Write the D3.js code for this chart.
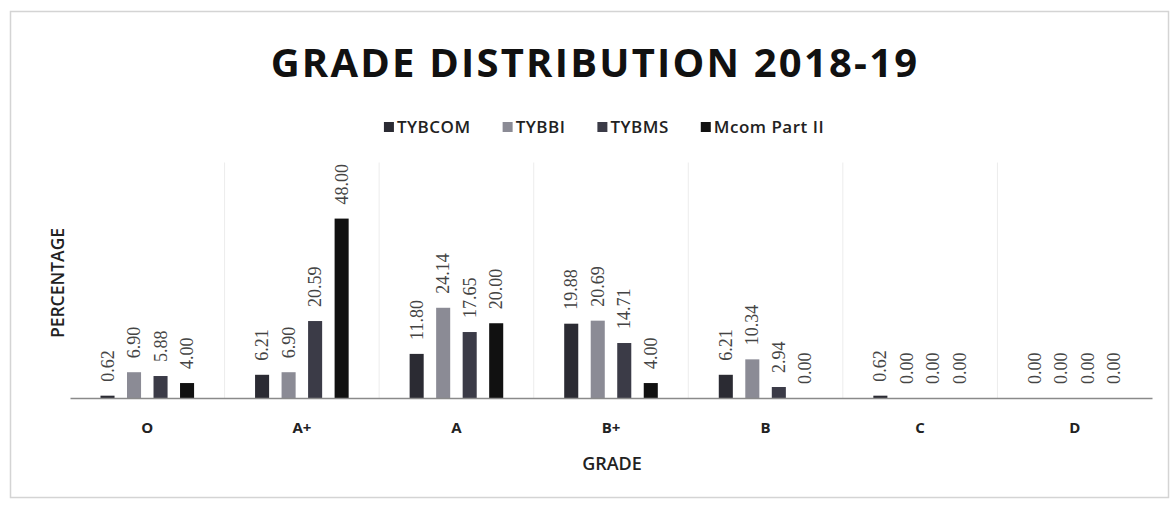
<!DOCTYPE html>
<html>
<head>
<meta charset="utf-8">
<script src="https://cdn.jsdelivr.net/npm/d3@7/dist/d3.min.js"></script>
<style>
html,body{margin:0;padding:0;background:#fff;}
svg{display:block;}
</style>
</head>
<body>
<svg id="chart" width="1174" height="506"></svg>
<script>
const categories = ["O", "A+", "A", "B+", "B", "C", "D"];
const seriesNames = ["TYBCOM", "TYBBI", "TYBMS", "Mcom Part II"];
const tybcom = [0.62, 6.21, 11.80, 19.88, 6.21, 0.62, 0.00];
const tybbi  = [6.90, 6.90, 24.14, 20.69, 10.34, 0.00, 0.00];
const tybms  = [5.88, 20.59, 17.65, 14.71, 2.94, 0.00, 0.00];
const mcom   = [4.00, 48.00, 20.00, 4.00, 0.00, 0.00, 0.00];
const seriesValues = [tybcom, tybbi, tybms, mcom];
const colors = ["#2b2b33", "#8b8b95", "#3b3b47", "#111111"];
const titleText = "GRADE DISTRIBUTION 2018-19";
const xTitle = "GRADE";
const yTitle = "PERCENTAGE";

const svg = d3.select("#chart");
const plotLeft = 70, plotRight = 1152, plotTop = 170, plotBase = 398;

// outer frame
svg.append("rect").attr("x", 10.5).attr("y", 11.5).attr("width", 1158).attr("height", 486)
  .attr("fill", "#fff").attr("stroke", "#d4d4d4").attr("stroke-width", 1.5);

const x0 = d3.scaleBand().domain(categories).range([plotLeft, plotRight]).paddingInner(0).paddingOuter(0);
const x1 = d3.scaleBand().domain(seriesNames).range([0, x0.bandwidth()]).paddingInner(0.47).paddingOuter(1.15);
const y = d3.scaleLinear().domain([0, 61]).range([plotBase, plotTop]);

// vertical separators
const seps = categories.slice(1);
svg.append("g").selectAll("line").data(seps).join("line")
  .attr("x1", d => x0(d)).attr("x2", d => x0(d))
  .attr("y1", y(63)).attr("y2", plotBase)
  .attr("stroke", "#ececec").attr("stroke-width", 1);

// bars
const data = [];
categories.forEach((c, i) => {
  seriesNames.forEach((s, j) => data.push({c, s, j, v: seriesValues[j][i]}));
});

svg.append("g").selectAll("rect").data(data).join("rect")
  .attr("x", d => x0(d.c) + x1(d.s))
  .attr("y", d => y(d.v))
  .attr("width", x1.bandwidth())
  .attr("height", d => plotBase - y(d.v))
  .attr("fill", d => colors[d.j]);

// axis baseline
const xAxis = d3.axisBottom(x0).tickSize(0).tickPadding(24);
const gx = svg.append("g").attr("transform", `translate(0,${plotBase})`).call(xAxis);
gx.select(".domain").attr("stroke", "#8a8a8a").attr("stroke-width", 1.5);
gx.selectAll("text").attr("font-family", "Open Sans, sans-serif").attr("font-weight", "700")
  .attr("font-size", 15).attr("fill", "#222");

// data labels
svg.append("g").selectAll("text").data(data).join("text")
  .attr("transform", d => `translate(${x0(d.c) + x1(d.s) + x1.bandwidth() / 2 + 6},${y(d.v) - 14}) rotate(-90)`)
  .attr("text-anchor", "start")
  .attr("font-family", "Liberation Serif, serif")
  .attr("font-size", 18)
  .attr("fill", "#444")
  .text(d => d.v.toFixed(2));

// title
svg.append("text").attr("x", 595).attr("y", 77).attr("text-anchor", "middle")
  .attr("font-family", "Open Sans, sans-serif").attr("font-weight", "700")
  .attr("font-size", 40).attr("letter-spacing", 2.2).attr("fill", "#111").text(titleText);

// axis titles
svg.append("text").attr("x", 612).attr("y", 470).attr("text-anchor", "middle")
  .attr("font-family", "Open Sans, sans-serif").attr("font-weight", "600")
  .attr("font-size", 18).attr("fill", "#222").text(xTitle);

svg.append("text").attr("transform", "translate(64,283) rotate(-90)").attr("text-anchor", "middle")
  .attr("font-family", "Open Sans, sans-serif").attr("font-weight", "600")
  .attr("font-size", 17.5).attr("fill", "#222").text(yTitle);

// legend
const lg = svg.append("g");
let lx = 0;
const legendGap = 32;
seriesNames.forEach((s, j) => {
  const g = lg.append("g");
  g.append("rect").attr("x", 0).attr("y", -6).attr("width", 10).attr("height", 10).attr("fill", colors[j]);
  const t = g.append("text").attr("x", 13).attr("y", 5)
    .attr("font-family", "Open Sans, sans-serif").attr("font-weight", "600")
    .attr("font-size", 17).attr("letter-spacing", 0.5).attr("fill", "#222").text(s);
  const w = 13 + t.node().getComputedTextLength();
  g.attr("transform", `translate(${lx},0)`);
  lx += w + legendGap;
});
const totalW = lx - legendGap;
lg.attr("transform", `translate(${604 - totalW / 2},128)`);
</script>
</body>
</html>
